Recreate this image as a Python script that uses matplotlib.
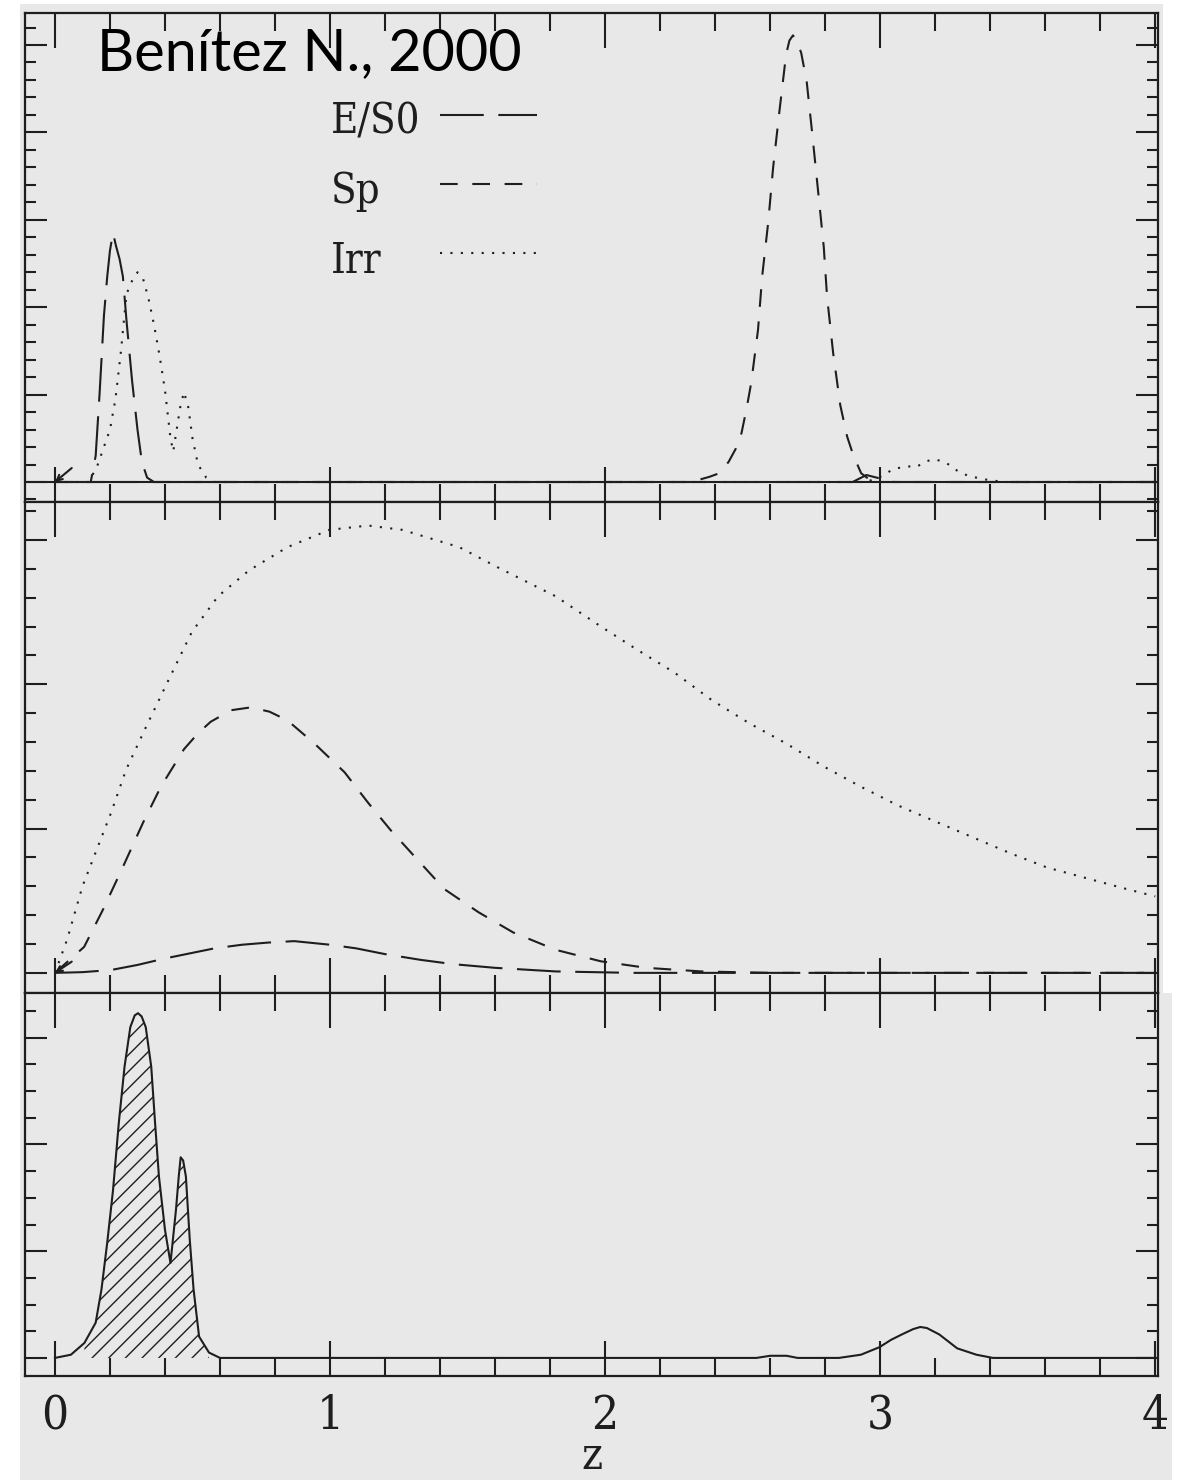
import numpy as np
import matplotlib.pyplot as plt
from matplotlib.ticker import MultipleLocator
from matplotlib.patches import Rectangle

# Police serif étroite pour les chiffres et la légende (style PGPLOT)
plt.rcParams['font.family'] = 'DejaVu Serif'
plt.rcParams['font.stretch'] = 'condensed'

# ---------------- Données ----------------
# Unités arbitraires : 1 = un grand tick de l'axe y

# Panneau du haut : vraisemblances
z_es0_lik = [0.0, 0.13, 0.148, 0.156, 0.162, 0.17, 0.178, 0.19, 0.2, 0.211,
             0.222, 0.235, 0.247, 0.26, 0.28, 0.3, 0.316, 0.335, 0.36,
             2.9, 2.95, 3.0, 3.05, 4.0]
es0_lik = [0, 0, 0.3, 0.7, 1.0, 1.45, 1.9, 2.35, 2.65, 2.85,
           2.7, 2.55, 2.35, 1.85, 1.17, 0.6, 0.23, 0.05, 0,
           0, 0.08, 0.04, 0, 0]

z_sp_lik = [0.0, 2.30, 2.335, 2.38, 2.415, 2.449, 2.475, 2.496, 2.515, 2.531,
            2.556, 2.571, 2.593, 2.611, 2.633, 2.658, 2.67, 2.683, 2.697, 2.713,
            2.733, 2.753, 2.775, 2.795, 2.807, 2.829, 2.855, 2.88, 2.902, 2.931,
            2.96, 3.0, 4.0]
sp_lik = [0, 0, 0.02, 0.06, 0.10, 0.23, 0.38, 0.56, 0.85, 1.13,
          1.74, 2.35, 2.97, 3.60, 4.22, 4.89, 5.05, 5.11, 5.05, 4.91,
          4.58, 3.99, 3.31, 2.69, 2.12, 1.48, 0.88, 0.52, 0.31, 0.10,
          0.03, 0, 0]

z_irr_lik = [0.0, 0.12, 0.15, 0.18, 0.2, 0.22, 0.24, 0.26, 0.28, 0.3,
             0.32, 0.34, 0.36, 0.38, 0.4, 0.42, 0.43, 0.44, 0.455, 0.469,
             0.485, 0.5, 0.52, 0.55, 0.58, 2.95, 3.0, 3.05, 3.1, 3.13,
             3.17, 3.2, 3.24, 3.28, 3.32, 3.38, 3.45, 4.0]
irr_lik = [0, 0, 0.15, 0.42, 0.6, 0.95, 1.5, 2.15, 2.3, 2.4,
           2.33, 2.1, 1.8, 1.45, 1.05, 0.5, 0.35, 0.55, 0.85, 1.03,
           0.85, 0.5, 0.2, 0.05, 0, 0, 0.06, 0.15, 0.18, 0.17,
           0.24, 0.26, 0.22, 0.13, 0.07, 0.03, 0, 0]

# Panneau du milieu : priors
z_es0_pri = [0.0, 0.1, 0.204, 0.3, 0.4, 0.58, 0.68, 0.775, 0.87, 1.0,
             1.095, 1.2, 1.33, 1.45, 1.6, 1.82, 2.1, 4.0]
es0_pri = [0, 0.005, 0.02, 0.055, 0.10, 0.17, 0.195, 0.21, 0.22, 0.195,
           0.17, 0.13, 0.09, 0.06, 0.035, 0.01, 0, 0]

z_sp_pri = [0.0, 0.106, 0.175, 0.246, 0.32, 0.385, 0.469, 0.52, 0.566, 0.64,
            0.712, 0.78, 0.845, 0.943, 1.053, 1.138, 1.22, 1.32, 1.416, 1.54,
            1.666, 1.82, 1.985, 2.15, 2.35, 2.6, 4.0]
sp_pri = [0, 0.18, 0.44, 0.73, 1.04, 1.29, 1.55, 1.66, 1.74, 1.82,
          1.84, 1.81, 1.75, 1.59, 1.39, 1.18, 0.99, 0.78, 0.58, 0.42,
          0.28, 0.16, 0.08, 0.035, 0.01, 0, 0]

z_irr_pri = [0.0, 0.044, 0.1, 0.155, 0.204, 0.259, 0.33, 0.413, 0.497, 0.593,
             0.706, 0.845, 0.998, 1.138, 1.263, 1.47, 1.61, 1.82, 1.985, 2.116,
             2.253, 2.388, 2.524, 2.658, 2.795, 2.93, 3.065, 3.2, 3.336, 3.472,
             3.607, 3.743, 3.878, 4.0]
irr_pri = [0, 0.23, 0.6, 0.87, 1.11, 1.41, 1.70, 2.03, 2.36, 2.61,
           2.79, 2.95, 3.07, 3.10, 3.07, 2.95, 2.81, 2.61, 2.40, 2.24,
           2.08, 1.89, 1.73, 1.59, 1.43, 1.29, 1.16, 1.05, 0.94, 0.83,
           0.73, 0.66, 0.59, 0.53]

# Panneau du bas : probabilité a posteriori
z_post = [0.0, 0.058, 0.107, 0.148, 0.169, 0.19, 0.211, 0.232, 0.253, 0.274,
          0.29, 0.302, 0.315, 0.33, 0.35, 0.364, 0.378, 0.4, 0.42, 0.44,
          0.45, 0.457, 0.466, 0.476, 0.49, 0.504, 0.524, 0.56, 0.6, 2.55,
          2.6, 2.66, 2.7, 2.85, 2.93, 2.997, 3.04, 3.079, 3.12, 3.146,
          3.17, 3.215, 3.25, 3.28, 3.35, 3.41, 4.0]
post = [0, 0.03, 0.14, 0.33, 0.64, 1.08, 1.57, 2.2, 2.73, 3.10,
        3.21, 3.23, 3.2, 3.10, 2.73, 2.2, 1.70, 1.20, 0.89, 1.39,
        1.7, 1.88, 1.85, 1.70, 1.11, 0.64, 0.20, 0.05, 0, 0,
        0.02, 0.02, 0, 0, 0.03, 0.10, 0.17, 0.22, 0.27, 0.29,
        0.28, 0.22, 0.15, 0.09, 0.03, 0, 0]

# Zone hachurée (pic principal)
hachure_min, hachure_max = 0.107, 0.56

labels_types = ['E/S0', 'Sp', 'Irr']
x_ticks = [0, 1, 2, 3, 4]

# ---------------- Styles ----------------
gris = '#e8e8e8'
encre = '#1e1e1e'
lw = 1.5
style_es0 = (0, (21, 7))
style_sp = (0, (8.5, 7))
style_irr = (0, (1, 4))

fig = plt.figure(figsize=(11.84, 14.8), dpi=100)
fig.patch.set_facecolor('white')

# Fond gris de la capture d'écran
fig.add_artist(Rectangle((0.0169, 0.0), 0.9654, 0.9973, transform=fig.transFigure,
                         facecolor=gris, edgecolor='none', zorder=-10))
fig.add_artist(Rectangle((0.0169, 0.0), 0.973, 0.329, transform=fig.transFigure,
                         facecolor=gris, edgecolor='none', zorder=-10))

gauche, largeur = 0.0211, 0.9569
ax_haut = fig.add_axes([gauche, 0.6608, largeur, 0.3304])
ax_mil = fig.add_axes([gauche, 0.3291, largeur, 0.3318])
ax_bas = fig.add_axes([gauche, 0.0703, largeur, 0.2588])


def regler_axes(ax, ymin, ymax, ymineur):
    ax.set_facecolor(gris)
    ax.set_xlim(-0.109, 4.01)
    ax.set_ylim(ymin, ymax)
    ax.xaxis.set_major_locator(MultipleLocator(1))
    ax.xaxis.set_minor_locator(MultipleLocator(0.2))
    ax.yaxis.set_major_locator(MultipleLocator(1))
    ax.yaxis.set_minor_locator(MultipleLocator(ymineur))
    ax.tick_params(axis='both', which='both', direction='in', top=True, right=True,
                   labelleft=False, labelbottom=False, color=encre, width=1.5)
    ax.tick_params(axis='x', which='major', length=25)
    ax.tick_params(axis='x', which='minor', length=13)
    ax.tick_params(axis='y', which='major', length=16)
    ax.tick_params(axis='y', which='minor', length=8)
    for s in ax.spines.values():
        s.set_linewidth(1.6)
        s.set_color(encre)


regler_axes(ax_haut, -0.229, 5.366, 0.2)
regler_axes(ax_mil, -0.139, 3.264, 0.2)
regler_axes(ax_bas, -0.169, 3.42, 0.25)

# Panneau du haut
ax_haut.axhline(0, color=encre, lw=lw, zorder=1)
h_es0, = ax_haut.plot(z_es0_lik, es0_lik, color=encre, lw=lw, ls=style_es0)
h_sp, = ax_haut.plot(z_sp_lik, sp_lik, color=encre, lw=lw, ls=style_sp)
h_irr, = ax_haut.plot(z_irr_lik, irr_lik, color=encre, lw=lw, ls=style_irr)
ax_haut.annotate('', xy=(0, 0), xytext=(0.061, 0.16),
                 arrowprops=dict(arrowstyle='->', color=encre, lw=lw, shrinkA=0, shrinkB=0))

# Légende : les traits à droite, les noms alignés à gauche
ax_haut.legend([h_es0, h_sp, h_irr], ['', '', ''], loc='upper left',
               bbox_to_anchor=(0.366, 0.814), frameon=False, fontsize=20,
               handlelength=3.5, handletextpad=0, labelspacing=1.5,
               borderpad=0, borderaxespad=0)
for lab, yb in zip(labels_types, [0.7546, 0.6115, 0.4683]):
    ax_haut.text(0.270, yb, lab, transform=ax_haut.transAxes, va='baseline',
                 ha='left', fontsize=30, color=encre)

ax_haut.text(0.0635, 0.883, 'Benítez N., 2000', transform=ax_haut.transAxes,
             va='baseline', ha='left', fontsize=41.5, family='Lato',
             fontstretch='normal', color='black')

# Panneau du milieu
ax_mil.plot(z_es0_pri, es0_pri, color=encre, lw=lw, ls=style_es0)
ax_mil.plot(z_sp_pri, sp_pri, color=encre, lw=lw, ls=style_sp)
ax_mil.plot(z_irr_pri, irr_pri, color=encre, lw=lw, ls=style_irr)
ax_mil.annotate('', xy=(0, 0), xytext=(0.061, 0.078),
                arrowprops=dict(arrowstyle='->', color=encre, lw=lw, shrinkA=0, shrinkB=0))

# Panneau du bas
z_p = np.array(z_post)
p_p = np.array(post)
masque = (z_p >= hachure_min) & (z_p <= hachure_max)
ax_bas.fill_between(z_p, 0, p_p, where=masque, facecolor='none', edgecolor=encre,
                    hatch='//', linewidth=0)
ax_bas.plot(z_p, p_p, color=encre, lw=lw)

ax_bas.set_xticks(x_ticks)
ax_bas.set_xticklabels([str(v) for v in x_ticks])
ax_bas.tick_params(axis='x', which='major', labelbottom=True, pad=13,
                   labelsize=34, labelcolor=encre)
ax_bas.set_xlabel('z', fontsize=32, color=encre)
ax_bas.xaxis.set_label_coords(0.5, -0.155)

fig.savefig('out.png', dpi=100, facecolor=fig.get_facecolor())
